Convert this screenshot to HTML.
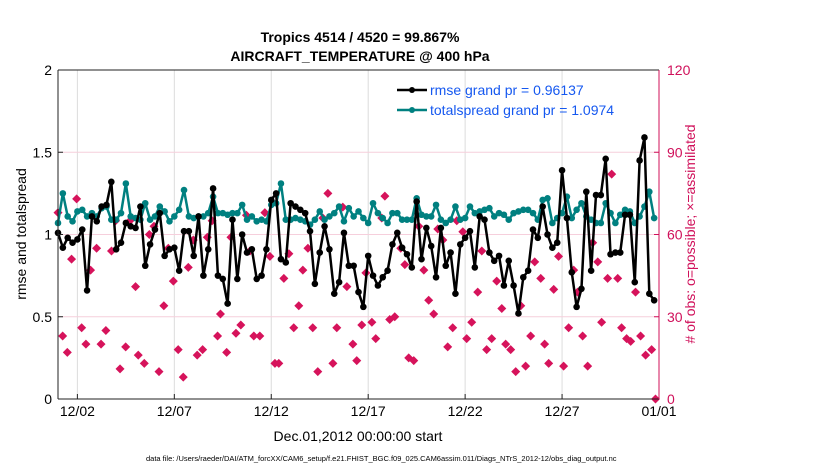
<!DOCTYPE html>
<html><head><meta charset="utf-8"><style>
body{margin:0;background:#fff;}
svg{display:block;font-family:"Liberation Sans",sans-serif;}
</style></head><body>
<svg id="chart" width="830" height="470" viewBox="0 0 830 470">
<text x="360" y="42" text-anchor="middle" font-size="14" font-weight="bold">Tropics 4514 / 4520 = 99.867%</text>
<text x="360" y="61" text-anchor="middle" font-size="14" font-weight="bold">AIRCRAFT_TEMPERATURE @ 400 hPa</text>
<g id="grid"></g><g id="marks"></g><g id="axes"></g>
<text transform="translate(26,234) rotate(-90)" text-anchor="middle" font-size="14">rmse and totalspread</text>
<text transform="translate(695,234) rotate(-90)" text-anchor="middle" font-size="14" fill="#d0105a"># of obs: o=possible; ×=assimilated</text>
<text x="358" y="441" text-anchor="middle" font-size="14">Dec.01,2012 00:00:00 start</text>
<text x="146" y="461" font-size="7.5">data file: /Users/raeder/DAI/ATM_forcXX/CAM6_setup/f.e21.FHIST_BGC.f09_025.CAM6assim.011/Diags_NTrS_2012-12/obs_diag_output.nc</text>
<g>
<line x1="397" y1="90" x2="427" y2="90" stroke="#000" stroke-width="2.5"/><circle cx="412" cy="90" r="3" fill="#000"/>
<text x="430" y="95" font-size="14" fill="#1558f0">rmse grand pr = 0.96137</text>
<line x1="397" y1="110" x2="427" y2="110" stroke="#008080" stroke-width="2.5"/><circle cx="412" cy="110" r="3" fill="#008080"/>
<text x="430" y="115" font-size="14" fill="#1558f0">totalspread grand pr = 1.0974</text>
</g>
</svg>
<script>
const xTickLabels=["12/02","12/07","12/12","12/17","12/22","12/27","01/01"];
const xTickDays=[1,6,11,16,21,26,31];
const yTicks=[0,0.5,1,1.5,2];
const yTickLabels=["0","0.5","1","1.5","2"];
const rTicks=[0,30,60,90,120];
const rmse=[1.01,0.92,0.98,0.95,0.97,1.03,0.66,1.11,1.08,1.17,1.18,1.32,0.91,0.95,1.07,1.05,1.04,1.17,0.81,0.94,1.03,1.13,0.87,0.91,0.92,0.78,1.02,1.02,0.87,1.11,0.75,0.91,1.28,0.75,0.73,0.58,1.09,0.73,1.00,0.89,0.91,0.73,0.75,
0.91,1.21,1.25,0.85,0.83,1.19,1.17,1.15,1.13,1.02,0.70,0.89,1.05,0.91,0.64,0.71,1.01,0.81,0.81,0.65,0.56,0.87,0.75,0.69,0.74,0.78,0.94,1.01,0.92,0.88,0.80,1.20,0.85,1.04,0.93,0.74,1.04,0.81,0.89,0.64,0.94,0.98,
1.02,0.80,1.11,1.09,0.89,0.84,0.87,0.69,0.84,0.69,0.52,0.74,0.78,1.03,0.98,1.17,1.00,0.92,0.95,1.39,1.10,0.77,0.56,0.67,1.26,0.78,1.24,1.24,1.46,0.88,0.89,0.89,1.12,1.12,0.71,1.45,1.59,0.64,0.60];
const spread=[1.07,1.25,1.11,1.08,1.14,1.15,1.11,1.13,1.11,1.16,1.17,1.09,1.09,1.13,1.31,1.11,1.10,1.09,1.19,1.09,1.11,1.17,1.14,1.08,1.11,1.15,1.27,1.11,1.10,1.11,1.11,1.13,1.23,1.13,1.13,1.12,1.13,1.13,1.18,1.09,1.11,1.08,1.09,
1.08,1.18,1.19,1.31,1.09,1.09,1.10,1.09,1.08,1.06,1.09,1.14,1.09,1.11,1.13,1.17,1.08,1.16,1.11,1.14,1.10,1.07,1.19,1.13,1.10,1.07,1.13,1.13,1.09,1.09,1.09,1.22,1.12,1.11,1.11,1.18,1.09,1.07,1.09,1.17,1.09,1.10,
1.17,1.13,1.14,1.15,1.16,1.11,1.13,1.12,1.09,1.13,1.14,1.15,1.15,1.13,1.09,1.21,1.22,1.07,1.10,1.13,1.23,1.10,1.15,1.19,1.11,1.09,1.07,1.07,1.19,1.13,1.07,1.12,1.15,1.14,1.07,1.11,1.17,1.26,1.10];
const obsDay=[0,0.96,0.7,1.68,1.99,2.76,2.97,3.71,4.0,4.71,4.95,5.46,5.69,5.95,6.72,6.98,7.7,7.95,8.38,8.92,9.72,9.9,
0.24,0.48,1.22,1.44,2.22,2.47,3.2,3.49,4.14,4.45,5.21,6.2,6.46,7.18,7.46,8.23,8.7,9.18,9.43,10.1,
10.67,10.93,11.65,11.91,12.42,12.63,12.89,13.66,13.92,14.69,14.9,15.88,16.7,16.86,17.68,17.89,18.61,18.87,19.12,19.38,19.59,19.85,20.57,
10.41,11.19,11.39,12.16,13.14,13.4,14.18,14.38,15.21,15.41,15.67,16.19,16.39,17.11,17.37,18.09,18.35,20.1,20.36,
20.88,21.65,21.86,22.63,22.89,23.87,24.59,24.9,25.57,25.82,26.6,26.8,27.58,27.84,28.35,28.56,28.87,29.79,
21.08,21.34,22.11,22.37,23.09,23.35,23.61,24.12,24.38,25.1,25.31,26.08,26.34,27.06,27.32,28.04,29.07,29.33,29.54,30.05,30.31,30.62,30.82];
const obsCount=[68,73,51,47,55,54,65,65,41,60,63,34,55,43,48,58,59,65,31,59,67,54,
23,17,26,20,20,25,11,19,16,13,10,18,8,16,18,23,17,24,27,23,
68,52,44,53,34,47,55,66,75,70,41,46,66,74,55,49,63,47,36,31,62,58,65,
23,13,13,26,26,10,13,26,20,14,27,28,22,29,30,15,14,19,26,
61,39,54,43,33,34,50,44,40,52,47,39,57,50,44,82,44,39,
22,28,18,22,20,18,10,12,23,20,13,12,26,23,12,28,26,22,21,23,16,18,0];

const NS="http://www.w3.org/2000/svg";
const X0=58,X1=659,Y0=399,Y1=70;
const xs=d=>X0+(d/31)*(X1-X0);
const ys=v=>Y0-(v/2)*(Y0-Y1);
const yr=c=>Y0-(c/120)*(Y0-Y1);
function mk(tag,attrs,parent){const e=document.createElementNS(NS,tag);for(const k in attrs)e.setAttribute(k,attrs[k]);parent.appendChild(e);return e;}
const grid=document.getElementById('grid'),marks=document.getElementById('marks'),axes=document.getElementById('axes');
xTickDays.forEach((d,i)=>{
  const g=mk('line',{x1:xs(d),x2:xs(d),y1:Y1,y2:Y0,stroke:'#dcdcdc','stroke-width':1},grid);
  
  
  const t=mk('line',{x1:xs(d),x2:xs(d),y1:Y0,y2:Y0-5,stroke:'#222'},axes);
  
  
  const l=mk('text',{x:xs(d),y:Y0+17,'text-anchor':'middle','font-size':14},axes);
  l.textContent=xTickLabels[i];
  
  
});
rTicks.forEach(c=>{
  if(c>0&&c<120){const g=mk('line',{x1:X0,x2:X1,y1:yr(c),y2:yr(c),stroke:'#f6cfdc','stroke-width':1},grid);
  
  }
  const l=mk('text',{x:X1+8,y:yr(c)+5,'font-size':14,fill:'#d0105a'},axes);
  l.textContent=String(c);
  
  
  const t=mk('line',{x1:X1,x2:X1-5,y1:yr(c),y2:yr(c),stroke:'#d0105a'},axes);
  
  
});
yTicks.forEach((v,i)=>{
  const l=mk('text',{x:X0-6,y:ys(v)+5,'text-anchor':'end','font-size':14},axes);
  l.textContent=yTickLabels[i];
  
  
  const t=mk('line',{x1:X0,x2:X0+5,y1:ys(v),y2:ys(v),stroke:'#222'},axes);
  
  
});
const la=mk('line',{x1:X0,x2:X0,y1:Y1,y2:Y0,stroke:'#222'},axes);


const ba=mk('line',{x1:X0,x2:X1,y1:Y0,y2:Y0,stroke:'#222'},axes);


const ta=mk('line',{x1:X0,x2:X1,y1:Y1,y2:Y1,stroke:'#222'},axes);


const ra=mk('line',{x1:X1,x2:X1,y1:Y1,y2:Y0,stroke:'#d0105a'},axes);


// obs markers
obsDay.forEach((d,i)=>{
  const x=xs(d),y=yr(obsCount[i]);
  const p=mk('path',{d:`M${x-4.5},${y}L${x},${y-4.5}L${x+4.5},${y}L${x},${y+4.5}Z`,fill:'#d6135b'},marks);
  
  
});
function series(vals,color,name){
  const pts=vals.map((v,i)=>xs(i*0.25)+','+ys(v)).join(' ');
  const pl=mk('polyline',{points:pts,fill:'none',stroke:color,'stroke-width':2.5,'stroke-linejoin':'round'},marks);
  
  
  vals.forEach((v,i)=>{
    const c=mk('circle',{cx:xs(i*0.25),cy:ys(v),r:3.3,fill:color},marks);
    
    
  });
}
series(spread,'#008080','totalspread');
series(rmse,'#000000','rmse');
</script>
</body></html>
